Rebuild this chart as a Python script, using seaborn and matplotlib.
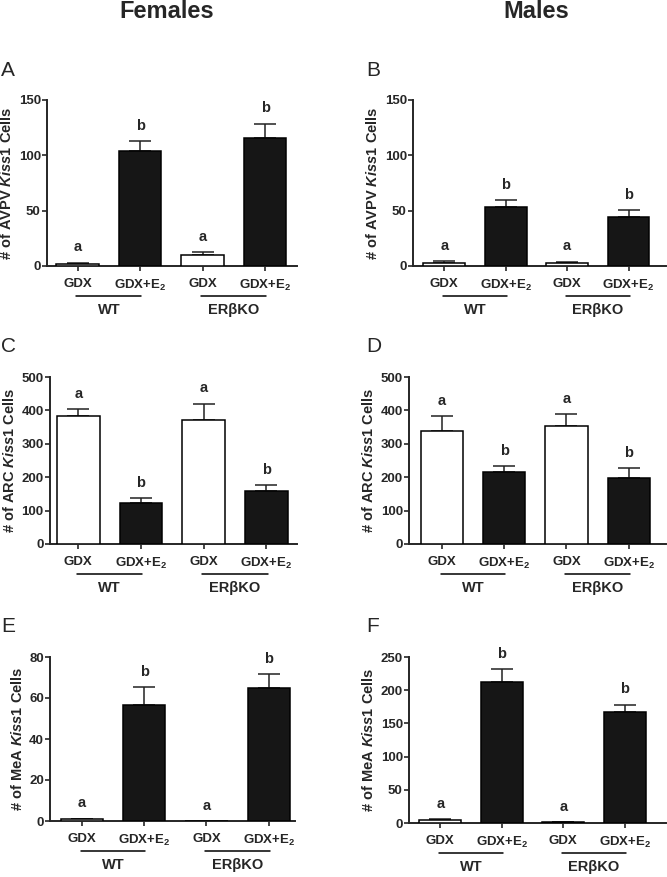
import numpy as np
import pandas as pd
import matplotlib
matplotlib.use("Agg")
import matplotlib.pyplot as plt
import seaborn as sns

sns.set_style("ticks")
plt.rcParams["font.family"] = ["Liberation Sans", "DejaVu Sans"]
plt.rcParams["font.weight"] = "bold"
plt.rcParams["mathtext.fontset"] = "custom"
plt.rcParams["mathtext.rm"] = "Liberation Sans:bold"
plt.rcParams["mathtext.it"] = "Liberation Sans:italic:bold"
plt.rcParams["mathtext.bf"] = "Liberation Sans:bold"

# data (means and SEM)
conditions = ["WT GDX", "WT GDX+E2", "KO GDX", "KO GDX+E2"]
tick_labels = ["GDX", "GDX+E$_2$", "GDX", "GDX+E$_2$"]
genotypes = ["WT", "ER\u03b2KO"]
letters = ["a", "b", "a", "b"]

avpv_f = [1.5, 103.5, 9.5, 115.5]
avpv_f_err = [1.5, 9, 3, 13]
avpv_m = [3, 53.5, 3, 44.5]
avpv_m_err = [1.2, 6, 1, 6]
arc_f = [382, 122, 370, 160]
arc_f_err = [21, 15, 50, 17]
arc_m = [339, 215, 353, 199]
arc_m_err = [44, 19, 35, 28]
mea_f = [0.8, 56.8, 0, 64.8]
mea_f_err = [0.4, 8.5, 0, 6.8]
mea_m = [4.5, 212, 1, 167]
mea_m_err = [1.5, 20, 0.5, 11]

panels = [
    ("A", avpv_f, avpv_f_err, "AVPV", [0, 50, 100, 150]),
    ("B", avpv_m, avpv_m_err, "AVPV", [0, 50, 100, 150]),
    ("C", arc_f, arc_f_err, "ARC", [0, 100, 200, 300, 400, 500]),
    ("D", arc_m, arc_m_err, "ARC", [0, 100, 200, 300, 400, 500]),
    ("E", mea_f, mea_f_err, "MeA", [0, 20, 40, 60, 80]),
    ("F", mea_m, mea_m_err, "MeA", [0, 50, 100, 150, 200, 250]),
]

W, H = 667, 877
fig = plt.figure(figsize=(W / 100, H / 100), dpi=100)

# axes boxes in pixels: left, right, top, bottom, xlim
boxes = [
    (47, 297, 100, 266, (-0.49, 3.51)),
    (413, 666, 100, 266, (-0.51, 3.61)),
    (50, 297, 377, 544, (-0.45, 3.49)),
    (409, 666, 377, 544, (-0.53, 3.60)),
    (50, 295, 657, 821, (-0.51, 3.42)),
    (409, 666, 657, 823, (-0.51, 3.67)),
]
under_off = 30
label_off = 44

palette = ["white", "#161616", "white", "#161616"]

for i, (letter, vals, errs, region, ticks) in enumerate(panels):
    l, r, t, b, xlim = boxes[i]
    ax = fig.add_axes([l / W, 1 - b / H, (r - l) / W, (b - t) / H])
    df = pd.DataFrame({"cond": conditions, "val": vals})
    sns.barplot(data=df, x="cond", y="val", hue="cond", palette=palette,
                order=conditions, hue_order=conditions, width=0.68,
                edgecolor="black", linewidth=1.1, legend=False, ax=ax, zorder=3)
    xs = np.arange(len(conditions))
    for x, v, e in zip(xs, vals, errs):
        if e > 0:
            ax.errorbar(x, v, yerr=[[0], [e]], fmt="none", ecolor="#222222",
                        elinewidth=1.1, capsize=8, capthick=1.1, zorder=2)
    for x, v, e, s in zip(xs, vals, errs, letters):
        ax.annotate(s, (x, v + e), xytext=(0, 6), textcoords="offset points",
                    ha="center", va="bottom", fontsize=10.5, fontweight="bold")
    ax.set_xlim(*xlim)
    ax.set_ylim(0, ticks[-1])
    ax.set_yticks(ticks)
    ax.set_xticks(xs)
    ax.set_xticklabels(tick_labels, fontsize=9.5, fontweight="bold")
    ax.tick_params(axis="y", labelsize=9.5, width=1.2, length=3.5, pad=1)
    ax.tick_params(axis="x", width=1.2, length=3.5, pad=5)
    for lab in ax.get_yticklabels():
        lab.set_fontweight("bold")
    ax.set_xlabel("")
    ax.set_ylabel("# of " + region + " $\\mathit{Kiss1}$ Cells", fontsize=10.5,
                  fontweight="bold", labelpad=3)
    sns.despine(ax=ax)
    for sp in ["left", "bottom"]:
        ax.spines[sp].set_linewidth(1.4)
    hpx = b - t
    uy = -under_off / hpx
    ly = -label_off / hpx
    tr = ax.get_xaxis_transform()
    for g, (x0, x1) in zip(genotypes, [(0, 1), (2, 3)]):
        ax.plot([x0 - 0.02, x1 + 0.02], [uy, uy], color="black", lw=1.1,
                transform=tr, clip_on=False)
        ax.text((x0 + x1) / 2, ly, g, transform=tr, ha="center", va="center",
                fontsize=10.5, fontweight="bold")
    lx = 1 if l < 300 else 366
    ly_px = t - 30
    fig.text(lx / W, 1 - ly_px / H, letter, fontsize=15, fontweight="normal",
             ha="left", va="center")

fig.text(167 / W, 1 - 11 / H, "Females", fontsize=17, fontweight="bold",
         ha="center", va="center")
fig.text(536 / W, 1 - 11 / H, "Males", fontsize=17, fontweight="bold",
         ha="center", va="center")

fig.savefig("out.png", dpi=100)
